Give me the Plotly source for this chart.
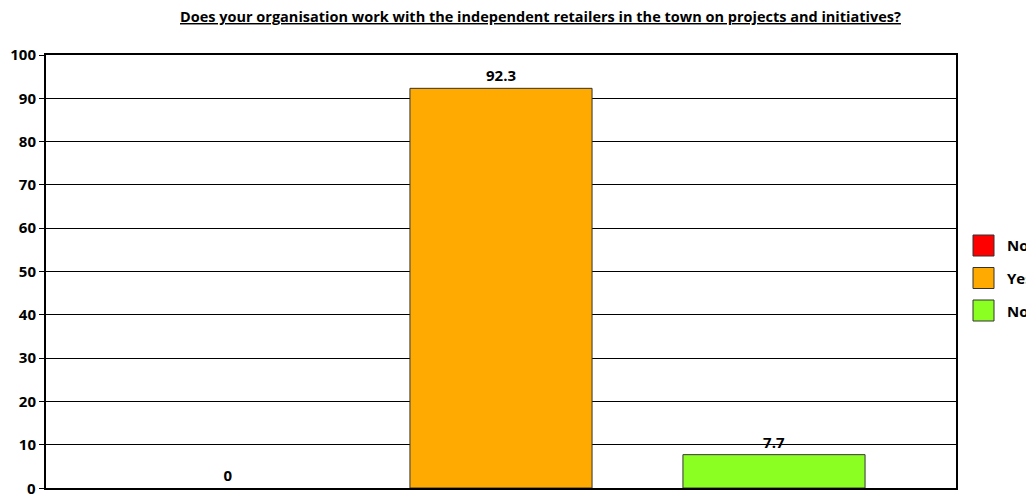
import plotly.graph_objects as go

# Survey responses (percent of respondents)
answers = ["No", "Yes", "Not sure"]
percentages = [0, 92.3, 7.7]
colors = ["#FF0000", "#FFAA00", "#8CFF22"]
y_ticks = [0, 10, 20, 30, 40, 50, 60, 70, 80, 90, 100]
title_text = "Does your organisation work with the independent retailers in the town on projects and initiatives?"

FONT = "Open Sans"
W, H = 1026, 495
M_L, M_R, M_T, M_B = 46, 70, 55, 7
PW, PH = W - M_L - M_R, H - M_T - M_B


def px_x(x):
    return (x - M_L) / PW


def px_y(y):
    return (H - M_B - y) / PH


fig = go.Figure()
for name, val, col in zip(answers, percentages, colors):
    fig.add_trace(go.Bar(
        x=[""], y=[val], name=name,
        marker=dict(color=col, line=dict(color="#333333", width=1 if val > 0 else 0)),
        text=[f"<b>{val:g}</b>"], textposition="outside", cliponaxis=False,
        textfont=dict(family=FONT, size=15, color="black"),
        showlegend=False,
    ))

# Legend drawn as square swatches with labels to the right of the plot
shapes = []
annotations = []
sw = 21
x0 = 973
y_first = 235
step = 32.5
for i, (name, col) in enumerate(zip(answers, colors)):
    top = y_first + i * step
    shapes.append(dict(
        type="rect", xref="paper", yref="paper",
        x0=px_x(x0), x1=px_x(x0 + sw), y0=px_y(top), y1=px_y(top + sw),
        fillcolor=col, line=dict(color="#333333", width=1),
    ))
    annotations.append(dict(
        xref="paper", yref="paper", x=px_x(x0 + sw + 11), y=px_y(top + sw / 2),
        text=f"<b>{name}</b>", showarrow=False, xanchor="left", yanchor="middle",
        font=dict(family=FONT, size=15, color="black"),
    ))

annotations.append(dict(
    xref="paper", yref="paper", x=px_x(540), y=px_y(17),
    text=f"<u><b>{title_text}</b></u>", showarrow=False,
    xanchor="center", yanchor="middle",
    font=dict(family=FONT, size=14.5, color="black"),
))

# Bottom tick label sits on the page edge, so place it explicitly
annotations.append(dict(
    xref="paper", yref="paper", x=px_x(38), y=0,
    text=f"<b>{y_ticks[0]}</b>", showarrow=False,
    xanchor="right", yanchor="middle",
    font=dict(family=FONT, size=15, color="black"),
))

fig.update_layout(
    width=W, height=H,
    margin=dict(l=M_L, r=M_R, t=M_T, b=M_B),
    paper_bgcolor="white", plot_bgcolor="white",
    barmode="group", bargap=0.1, bargroupgap=0.333,
    showlegend=False,
    shapes=shapes, annotations=annotations,
    font=dict(family=FONT, color="black"),
)
fig.update_xaxes(
    showticklabels=False, showgrid=False,
    showline=True, linecolor="black", linewidth=2, mirror=True,
)
fig.update_yaxes(
    range=[0, 100], tickvals=y_ticks,
    ticktext=[""] + [f"<b>{t}</b>" for t in y_ticks[1:]],
    tickfont=dict(family=FONT, size=15, color="black"),
    ticks="outside", ticklen=5, tickcolor="black",
    showgrid=True, gridcolor="black", gridwidth=1,
    showline=True, linecolor="black", linewidth=2, mirror=True,
    zeroline=False,
)

fig.write_html("out.html")
